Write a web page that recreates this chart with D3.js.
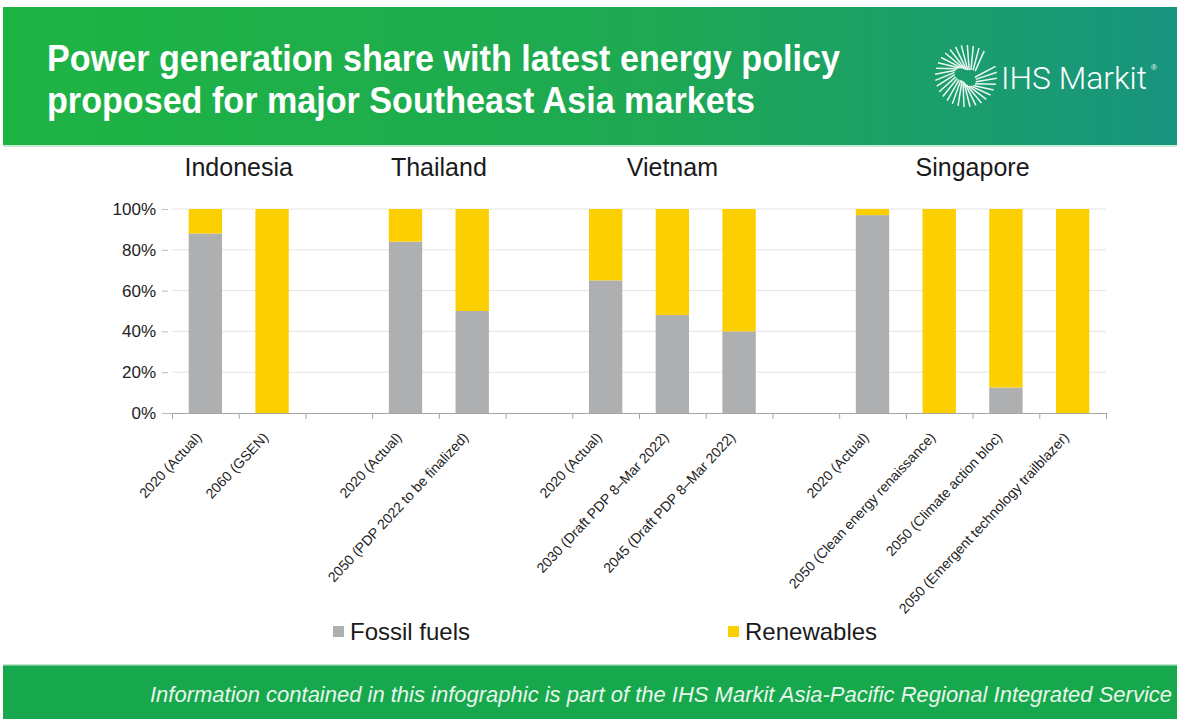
<!DOCTYPE html>
<html>
<head>
<meta charset="utf-8">
<script src="https://cdn.jsdelivr.net/npm/d3@7"></script>
<style>
  body { margin: 0; background: #fff; }
  svg { display: block; font-family: "Liberation Sans", Arial, sans-serif; }
</style>
</head>
<body>
<div id="chart"></div>
<script>
// chart data (null = empty spacer slot between markets)
const categories = ["2020 (Actual)", "2060 (GSEN)", null,
  "2020 (Actual)", "2050 (PDP 2022 to be finalized)", null,
  "2020 (Actual)", "2030 (Draft PDP 8\u2013Mar 2022)", "2045 (Draft PDP 8\u2013Mar 2022)", null,
  "2020 (Actual)", "2050 (Clean energy renaissance)", "2050 (Climate action bloc)", "2050 (Emergent technology trailblazer)"]
const markets = ["Indonesia", "Indonesia", null, "Thailand", "Thailand", null,
  "Vietnam", "Vietnam", "Vietnam", null, "Singapore", "Singapore", "Singapore", "Singapore"]
const fossil = [88, 0, null, 84, 50, null, 65, 48, 40, null, 97, 0, 12.5, 0]
const renewables = [12, 100, null, 16, 50, null, 35, 52, 60, null, 3, 100, 87.5, 100]
const yTicks = [0, 20, 40, 60, 80, 100]
const seriesNames = ["Fossil fuels", "Renewables"]
const colors = { "Fossil fuels": "#aeafb1", "Renewables": "#fcd000" }

const width = 1177, height = 719
const plot = { left: 172, right: 1106, top: 209, bottom: 413 }

const svg = d3.select("#chart").append("svg")
  .attr("width", width)
  .attr("height", height)

// header band
const defs = svg.append("defs")
const grad = defs.append("linearGradient").attr("id", "hdr")
  .attr("x1", "0%").attr("x2", "100%").attr("y1", "0%").attr("y2", "0%")
grad.append("stop").attr("offset", "0%").attr("stop-color", "#1eb443")
grad.append("stop").attr("offset", "55%").attr("stop-color", "#1ea952")
grad.append("stop").attr("offset", "100%").attr("stop-color", "#18957f")

svg.append("rect").attr("x", 3).attr("y", 7).attr("width", width - 3).attr("height", 138)
  .attr("fill", "url(#hdr)")
svg.append("rect").attr("x", 3).attr("y", 145).attr("width", width - 3).attr("height", 2)
  .attr("fill", "#c9ebd6")

const titleLines = ["Power generation share with latest energy policy", "proposed for major Southeast Asia markets"]
const titleLen = [793, 708]
svg.selectAll(".title")
  .data(titleLines)
  .join("text")
  .attr("class", "title")
  .attr("x", 47)
  .attr("y", (d, i) => 71 + i * 42)
  .attr("fill", "#fff")
  .attr("font-size", 37)
  .attr("font-weight", "bold")
  .attr("textLength", (d, i) => titleLen[i])
  .attr("lengthAdjust", "spacingAndGlyphs")
  .text(d => d)

// logo: radiating strokes + wordmark
const logo = svg.append("g").attr("transform", "translate(966,76)")
d3.range(30).forEach(k => {
  const a = -Math.PI * 0.1 + k * (Math.PI * 1.8 / 29)
  const r0 = 9 + 3 * Math.sin(k * 0.45), r1 = 31
  logo.append("line")
    .attr("x1", Math.cos(a + 0.45) * r0).attr("y1", Math.sin(a + 0.45) * r0)
    .attr("x2", Math.cos(a) * r1).attr("y2", Math.sin(a) * r1)
    .attr("stroke", "#fff").attr("stroke-width", 1.5).attr("opacity", 0.92)
})
svg.append("text").attr("x", 1001).attr("y", 89)
  .attr("fill", "#fff").attr("font-size", 32).attr("font-family", "Roboto, 'Liberation Sans', sans-serif")
  .attr("font-weight", 300)
  .attr("textLength", 146)
  .attr("lengthAdjust", "spacingAndGlyphs")
  .text("IHS Markit")
svg.append("text").attr("x", 1151).attr("y", 70)
  .attr("fill", "#fff").attr("font-size", 8).text("\u00ae")

// footer band
svg.append("rect").attr("x", 3).attr("y", 665).attr("width", width - 3).attr("height", 54)
  .attr("fill", "#17a84d")
svg.append("rect").attr("x", 3).attr("y", 664).attr("width", width - 3).attr("height", 1.5)
  .attr("fill", "#bfe6cc")
svg.append("text")
  .attr("x", 150).attr("y", 702)
  .attr("fill", "#e8f6ec")
  .attr("font-size", 22)
  .attr("font-style", "italic")
  .attr("textLength", 1022)
  .attr("lengthAdjust", "spacingAndGlyphs")
  .text("Information contained in this infographic is part of the IHS Markit Asia-Pacific Regional Integrated Service")

// scales
const x = d3.scaleLinear().domain([0, categories.length]).range([plot.left, plot.right])
const y = d3.scaleLinear().domain([0, 100]).range([plot.bottom, plot.top])
const slot = x(1) - x(0)

// gridlines + y labels
svg.append("g")
  .selectAll("line")
  .data(yTicks.filter(d => d > 0))
  .join("line")
  .attr("x1", plot.left).attr("x2", plot.right)
  .attr("y1", d => y(d)).attr("y2", d => y(d))
  .attr("stroke", "#e4e4e4").attr("stroke-width", 1)

const yAxis = d3.axisLeft(y).tickValues(yTicks).tickFormat(d => d + "%").tickSize(10).tickPadding(6)
const yAxisGroup = svg.append("g").attr("transform", `translate(${plot.left},0)`).call(yAxis)
yAxisGroup.select(".domain").remove()
yAxisGroup.selectAll(".tick line").attr("stroke", "#bbb").attr("x2", -10).attr("x1", 0)
yAxisGroup.selectAll(".tick line").filter(d => d > 0).attr("x1", -10).attr("x2", -4)
yAxisGroup.selectAll("text")
  .attr("font-size", 17).attr("fill", "#222")
  .attr("font-family", "'Liberation Sans', Arial, sans-serif")

// stacked bars
const barData = categories.map((c, i) => ({ i, c, fossil: fossil[i], renewables: renewables[i] }))
  .filter(d => d.c !== null)

const stack = d3.stack().keys(["fossil", "renewables"])(barData)
svg.append("g")
  .selectAll("g")
  .data(stack)
  .join("g")
  .attr("fill", (s, k) => colors[seriesNames[k]])
  .selectAll("rect")
  .data(s => s)
  .join("rect")
  .attr("x", d => x(d.data.i + 0.25))
  .attr("width", slot * 0.5)
  .attr("y", d => y(d[1]))
  .attr("height", d => y(d[0]) - y(d[1]))

// x axis with boundary ticks
const xAxis = d3.axisBottom(x).tickValues(d3.range(categories.length + 1)).tickFormat("").tickSize(6)
const xAxisGroup = svg.append("g").attr("transform", `translate(0,${plot.bottom})`).call(xAxis)
xAxisGroup.select(".domain").attr("stroke", "#a6a6a6")
xAxisGroup.selectAll(".tick line").attr("stroke", "#a6a6a6")

// rotated category labels
svg.append("g")
  .selectAll("text")
  .data(barData)
  .join("text")
  .attr("transform", d => `translate(${x(d.i + 0.5) - 3},${plot.bottom + 25}) rotate(-47)`)
  .attr("text-anchor", "end")
  .attr("font-size", 14)
  .attr("fill", "#222")
  .text(d => d.c)

// market headings centred over their bars
const groups = d3.groups(barData.map(d => ({ ...d, m: markets[d.i] })), d => d.m)
svg.append("g")
  .selectAll("text")
  .data(groups)
  .join("text")
  .attr("x", g => x(d3.mean(g[1], d => d.i) + 0.5))
  .attr("y", 176)
  .attr("text-anchor", "middle")
  .attr("font-size", 25)
  .attr("fill", "#1a1a1a")
  .text(g => g[0])

// legend
const legendX = [333, 728]
const legend = svg.append("g")
  .selectAll("g")
  .data(seriesNames)
  .join("g")
  .attr("transform", (d, i) => `translate(${legendX[i]},625)`)
legend.append("rect").attr("width", 11).attr("height", 11).attr("y", 1)
  .attr("fill", d => colors[d])
legend.append("text").attr("x", 17).attr("y", 15)
  .attr("font-size", 24).attr("fill", "#1a1a1a")
  .text(d => d)
</script>
</body>
</html>
